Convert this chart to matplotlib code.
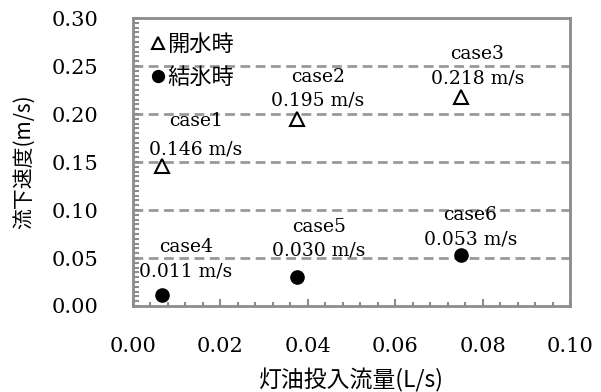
import matplotlib
matplotlib.use("Agg")
import matplotlib.pyplot as plt
from matplotlib.ticker import MultipleLocator, FormatStrFormatter

# ---- data ----
flow_open = [0.0067, 0.0375, 0.075]      # 灯油投入流量 (L/s), 開水時
speed_open = [0.146, 0.195, 0.218]       # 流下速度 (m/s)
flow_ice = [0.0067, 0.0375, 0.075]       # 結氷時
speed_ice = [0.011, 0.030, 0.053]
cases_open = ["case1", "case2", "case3"]
cases_ice = ["case4", "case5", "case6"]
legend_labels = ["開水時", "結氷時"]
xlabel = "灯油投入流量(L/s)"
ylabel = "流下速度(m/s)"

# label offsets (points) for name and value text: (dx, dy_name, dy_value)
offs_open = [(24, 32, 12), (15, 30, 13), (12, 31, 13)]
offs_ice = [(17, 35, 17), (16, 36, 19), (7, 29, 11)]

SERIF = ["DejaVu Serif"]
CJK = ["Noto Sans CJK JP", "DejaVu Sans"]
GRAY = "#8c8c8c"

fig = plt.figure(figsize=(6.01, 3.92), dpi=100)
ax = fig.add_axes([0.2213, 0.2194, 0.7271, 0.7346])

ax.set_xlim(0, 0.10)
ax.set_ylim(0, 0.30)

for y in [0.05, 0.10, 0.15, 0.20, 0.25]:
    ax.axhline(y, color="#999999", lw=2, ls=(0, (3.5, 2)), zorder=1)

h1, = ax.plot(flow_open, speed_open, ls="none", marker="^", ms=10,
              mfc="white", mec="black", mew=1.5, zorder=3)
h2, = ax.plot(flow_ice, speed_ice, ls="none", marker="o", ms=9.5,
              mfc="black", mec="black", zorder=3)

def annotate(xs, ys, names, offs):
    for x, y, n, (dx, dn, dv) in zip(xs, ys, names, offs):
        ax.annotate(n, (x, y), xytext=(dx, dn), textcoords="offset points",
                    ha="center", va="center", fontsize=13.5, family=SERIF, zorder=4)
        ax.annotate(f"{y:.3f} m/s", (x, y), xytext=(dx, dv), textcoords="offset points",
                    ha="center", va="center", fontsize=13.5, family=SERIF, zorder=4)

annotate(flow_open, speed_open, cases_open, offs_open)
annotate(flow_ice, speed_ice, cases_ice, offs_ice)

leg = ax.legend([h1, h2], legend_labels, loc="upper left", frameon=False,
                prop={"family": CJK, "size": 16}, handlelength=0.5,
                handletextpad=0.15, markerscale=0.9, labelspacing=0.45,
                borderaxespad=0.2, bbox_to_anchor=(0.015, 0.995))

for s in ax.spines.values():
    s.set_color(GRAY)
    s.set_linewidth(2)

ax.xaxis.set_major_locator(MultipleLocator(0.02))
ax.xaxis.set_minor_locator(MultipleLocator(0.004))
ax.yaxis.set_major_locator(MultipleLocator(0.05))
ax.yaxis.set_minor_locator(MultipleLocator(0.005))
ax.xaxis.set_major_formatter(FormatStrFormatter("%.2f"))
ax.yaxis.set_major_formatter(FormatStrFormatter("%.2f"))

ax.tick_params(axis="x", which="major", direction="in", length=5, width=1.5,
               color=GRAY, pad=22, labelsize=15)
ax.tick_params(axis="x", which="minor", direction="in", length=3, width=1.5, color=GRAY)
ax.tick_params(axis="y", which="both", direction="in", length=4.5, width=1.5,
               color=GRAY, pad=25, labelsize=15)
ax.tick_params(top=False, right=False, which="both")
for lab in ax.get_xticklabels() + ax.get_yticklabels():
    lab.set_family(SERIF)

ax.set_xlabel(xlabel, family=CJK, fontsize=16.5, labelpad=9)
ax.set_ylabel(ylabel, family=CJK, fontsize=15, labelpad=12)

fig.savefig("out.png", dpi=100)
